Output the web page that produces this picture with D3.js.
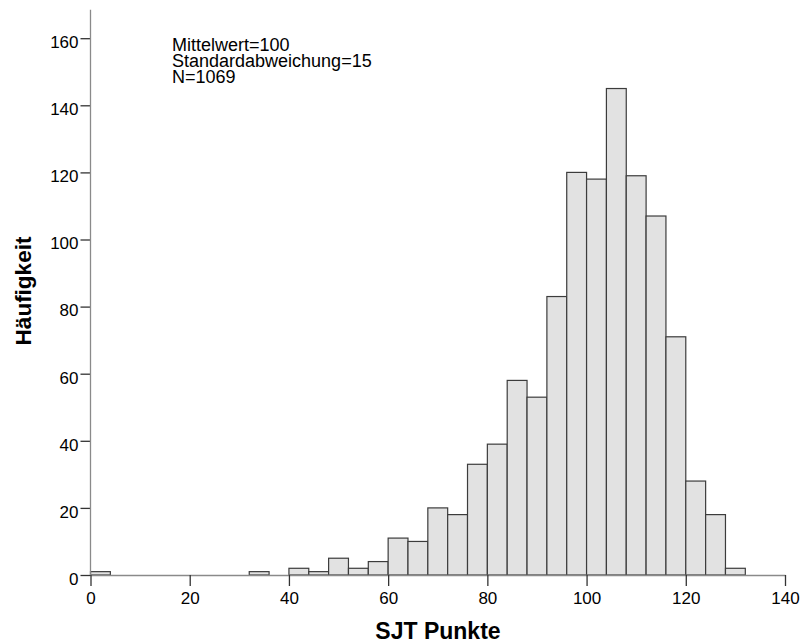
<!DOCTYPE html>
<html>
<head>
<meta charset="utf-8">
<script src="https://cdn.jsdelivr.net/npm/d3@7.9.0/dist/d3.min.js"></script>
<style>
  body { margin: 0; background: #fff; }
  svg { display: block; font-family: "Liberation Sans", Arial, sans-serif; }
</style>
</head>
<body>
<svg width="802" height="644"></svg>
<script>
// bin lower bounds (width 4) and counts
const binStarts = [0, 4, 8, 12, 16, 20, 24, 28, 32, 36, 40, 44, 48, 52, 56, 60, 64,
  68, 72, 76, 80, 84, 88, 92, 96, 100, 104, 108, 112, 116, 120, 124, 128];
const counts = [1, 0, 0, 0, 0, 0, 0, 0, 1, 0, 2, 1, 5, 2, 4, 11, 10,
  20, 18, 33, 39, 58, 53, 83, 120, 118, 145, 119, 107, 71, 28, 18, 2];
const binWidth = 4;

const xTicks = [0, 20, 40, 60, 80, 100, 120, 140];
const yTicks = [0, 20, 40, 60, 80, 100, 120, 140, 160];
const statLines = ["Mittelwert=100", "Standardabweichung=15", "N=1069"];
const xTitle = "SJT Punkte";
const yTitle = "Häufigkeit";

const svg = d3.select('svg');

let x = d3.scaleLinear().domain([0, 140]).range([90.5, 785]);
let y = d3.scaleLinear().domain([0, 160]).range([575, 38.2]);

// bars
let bins = binStarts.map((s, i) => ({ x0: s, x1: s + binWidth, n: counts[i] }))
  .filter(d => d.n > 0);

svg.append('g')
  .selectAll('rect')
  .data(bins)
  .join('rect')
  .attr('x', d => x(d.x0))
  .attr('width', d => x(d.x1) - x(d.x0))
  .attr('y', d => y(d.n))
  .attr('height', d => y(0) - y(d.n))
  .attr('fill', '#e2e2e2')
  .attr('stroke', '#3c3c3c')
  .attr('stroke-width', 1.2);

// x axis
let xAxis = svg.append('g')
  .attr('transform', `translate(0,${y(0)})`)
  .call(d3.axisBottom(x).tickValues(xTicks).tickSize(11).tickPadding(6).tickSizeOuter(0));
xAxis.select('.domain').attr('stroke', '#8a8a8a').attr('stroke-width', 1.3);
xAxis.selectAll('.tick line').attr('stroke', '#333').attr('stroke-width', 1.3);
xAxis.selectAll('.tick text')
  .attr('font-size', 17).attr('fill', '#000')
  .attr('font-family', '"Liberation Sans", Arial, sans-serif');

// y axis
let yAxis = svg.append('g')
  .attr('transform', `translate(${x(0)},0)`)
  .call(d3.axisLeft(y).tickValues(yTicks).tickSize(10).tickPadding(2).tickSizeOuter(0));
yAxis.select('.domain').remove();
yAxis.append('line')
  .attr('x1', 0).attr('x2', 0)
  .attr('y1', y(0)).attr('y2', y(168.5))
  .attr('stroke', '#8a8a8a').attr('stroke-width', 1.3);
yAxis.selectAll('.tick line').attr('stroke', '#333').attr('stroke-width', 1.3);
yAxis.selectAll('.tick text')
  .attr('font-size', 17).attr('fill', '#000')
  .attr('dy', '0.55em')
  .attr('font-family', '"Liberation Sans", Arial, sans-serif');

// axis titles
svg.append('text')
  .attr('x', 438)
  .attr('y', 639)
  .attr('text-anchor', 'middle')
  .attr('font-size', 23)
  .attr('font-weight', 'bold')
  .text(xTitle);

svg.append('text')
  .attr('transform', 'translate(31,291) rotate(-90)')
  .attr('text-anchor', 'middle')
  .attr('font-size', 22.5)
  .attr('font-weight', 'bold')
  .text(yTitle);

// stats box: one text block, tightly spaced lines as in the original
let stats = svg.append('text')
  .attr('x', 172)
  .attr('y', 51)
  .attr('font-size', 18);
stats.selectAll('tspan')
  .data(statLines)
  .join('tspan')
  .attr('x', 172)
  .attr('dy', (d, i) => i === 0 ? 0 : 15.8)
  .text(d => d);
</script>
</body>
</html>
